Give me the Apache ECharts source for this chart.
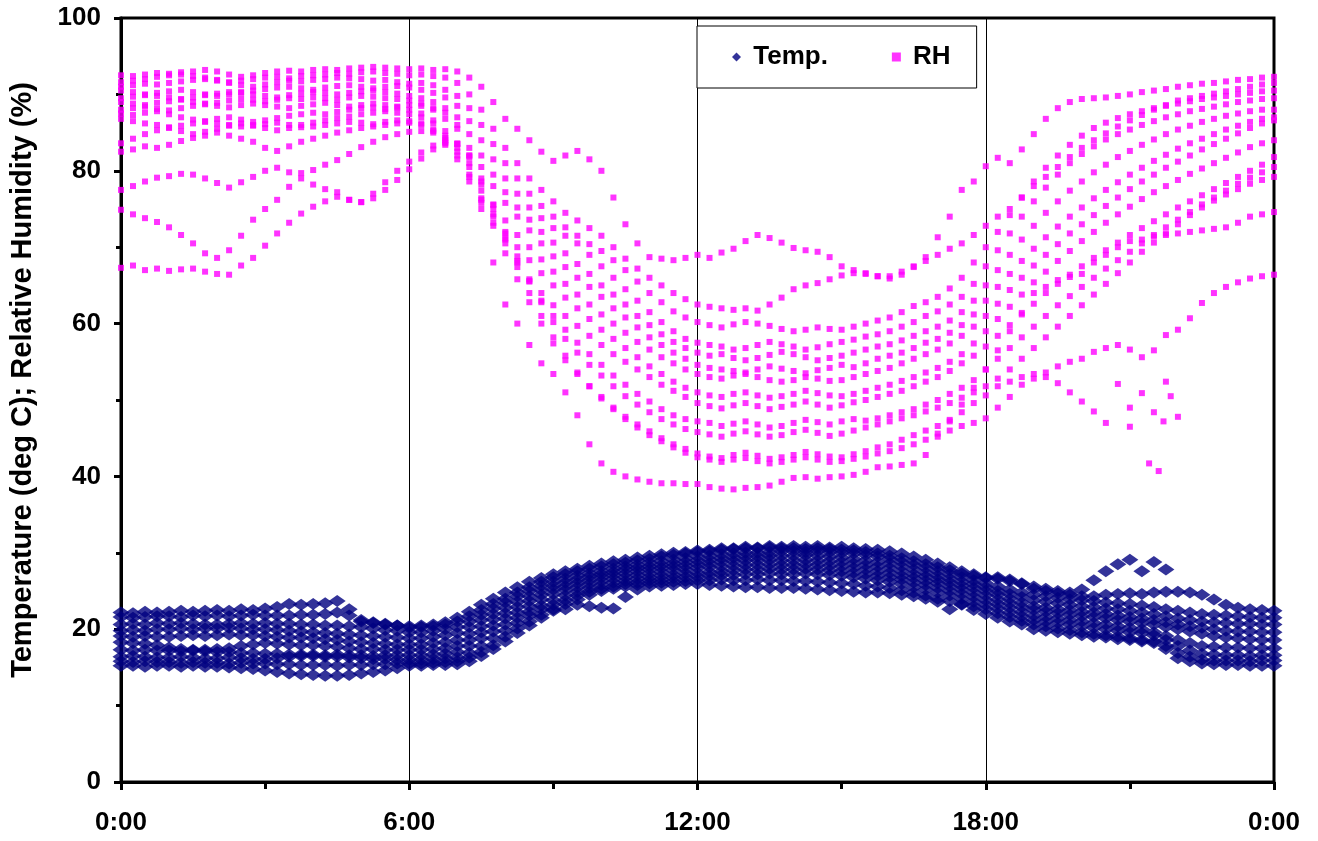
<!DOCTYPE html>
<html><head><meta charset="utf-8">
<script src="https://cdn.jsdelivr.net/npm/echarts@6/dist/echarts.min.js"></script>
<style>html,body{margin:0;padding:0;background:#fff}#c{width:1318px;height:841px}</style>
</head><body><div id="c"></div>
<script>
// Readings every 15 minutes from 0:00 to 24:00 (97 values per day curve)
const STEP_H = 0.25;
const X_TICK_LABELS = ['0:00', '6:00', '12:00', '18:00', '0:00'];
const Y_AXIS_NAME = 'Temperature (deg C); Relative Humidity (%)';

// ---------- Temperature (deg C), one array per day ----------
const temp1 = [22.2,22.1,22.3,22.2, 22.3,22.4,22.3,22.4, 22.5,22.4,22.6,22.5, 22.7,22.9,23.3,23.2, 23.3,23.4,23.7,22.6, 21.0,20.8,20.6,20.5, 20.4,20.5,20.6,20.9, 21.5,22.3,23.2,24.0, 24.8,25.5,26.2,26.7, 27.2,27.6,27.9,28.3, 28.6,28.9,29.1,29.4, 29.6,29.8,30.0,30.1, 30.3,30.4,30.6,30.6, 30.8,30.7,30.9,30.8, 30.9,30.8,30.9,30.7, 30.8,30.6,30.5,30.4, 30.2,29.9,29.5,29.1, 28.6,28.1,27.6,27.2, 26.8,26.6,26.3,25.9, 25.6,25.3,25.0,24.8, 25.2,26.4,27.6,28.5, 29.1,27.6,28.8,27.8, null,null,null,null, null,null,null,null, null];
const temp2 = [21.6,21.5,21.6,21.7, 21.7,21.6,21.8,21.7, 21.8,21.7,21.8,21.9, 21.8,21.8,21.8,21.9, 21.9,22.0,22.2,21.8, 21.2,20.9,20.7,20.5, 20.2,20.3,20.4,20.6, 21.0,21.7,22.5,23.3, 24.0,24.8,25.5,26.2, 26.8,27.2,27.6,27.9, 28.2,28.5,28.7,29.0, 29.2,29.5,29.7,29.9, 30.1,30.2,30.4,30.5, 30.6,30.6,30.7,30.6, 30.6,30.5,30.6,30.5, 30.4,30.3,30.1,29.9, 29.6,29.3,28.9,28.5, 28.1,27.7,27.3,27.0, 26.7,26.8,26.5,26.0, 25.3,25.0,24.7,24.5, 24.3,24.3,24.5,24.6, 24.7,24.6,24.8,24.9, 24.9,24.8,24.5,23.9, 23.2,22.8,22.6,22.5, 22.4];
const temp3 = [20.6,20.7,20.6,20.8, 20.7,20.8,20.7,20.6, 20.6,20.7,20.8,20.7, 20.8,20.7,20.7,20.6, 20.6,20.5,20.5,20.4, 20.3,20.1,19.9,19.8, 19.6,19.6,19.8,20.0, 20.3,21.0,21.9,22.7, 23.5,24.3,25.0,25.7, 26.2,26.6,27.0,27.3, 27.6,27.9,28.2,28.4, 28.7,28.9,29.1,29.3, 29.5,29.6,29.8,29.9, 30.0,30.0,30.1,30.2, 30.2,30.1,30.2,30.1, 30.0,29.9,29.7,29.5, 29.2,28.8,28.4,28.0, 27.6,27.2,26.8,26.4, 26.0,25.6,25.2,24.8, 24.5,24.3,24.1,23.9, 23.8,23.7,23.5,23.4, 23.3,23.1,22.9,22.6, 22.4,22.2,22.0,21.9, 21.8,21.7,21.6,21.5, 21.5];
const temp4 = [19.8,19.9,19.8,20.0, 20.0,20.1,20.0,20.1, 20.1,20.2,20.1,20.0, 20.0,19.9,19.8,19.7, 19.6,19.5,19.4,19.3, 19.2,19.1,19.0,18.9, 18.8,18.8,19.0,19.2, 19.5,20.3,21.2,22.0, 22.8,23.6,24.3,25.1, 25.7,26.1,26.5,26.9, 27.2,27.5,27.8,28.0, 28.2,28.4,28.6,28.8, 29.0,29.1,29.3,29.4, 29.5,29.5,29.6,29.6, 29.6,29.7,29.6,29.5, 29.4,29.2,29.0,28.8, 28.6,28.2,27.8,27.4, 27.0,26.6,26.2,25.9, 25.5,25.0,24.6,24.2, 23.8,23.6,23.4,23.2, 23.0,22.9,22.7,22.6, 22.4,22.2,22.0,21.7, 21.4,21.2,21.0,20.9, 20.8,20.7,20.7,20.6, 20.6];
const temp5 = [19.1,19.0,19.1,19.0, 19.0,19.1,19.2,19.1, 19.2,19.3,19.2,19.2, 19.1,19.0,18.9,18.9, 18.8,18.7,18.6,18.4, 18.3,18.2,18.1,18.0, 18.0,18.0,18.2,18.3, 18.6,19.4,20.4,21.3, 22.1,22.9,23.7,24.5, 25.2,25.6,26.0,26.4, 26.8,27.1,27.3,27.6, 27.8,28.0,28.2,28.3, 28.5,28.6,28.8,28.9, 29.0,29.0,29.1,29.0, 29.0,29.1,29.0,28.9, 28.8,28.6,28.4,28.2, 28.0,27.6,27.2,26.9, 26.5,26.1,25.7,25.4, 25.0,24.5,24.0,23.5, 23.0,22.8,22.6,22.5, 22.3,22.2,22.0,21.8, 21.6,21.4,21.2,20.9, 20.6,20.4,20.2,20.0, 19.8,19.7,19.7,19.6, 19.6];
const temp6 = [18.3,18.2,18.1,17.9, 17.6,17.4,17.3,17.3, 17.4,17.5,17.8,18.0, 18.2,18.1,18.0,17.9, 17.9,17.8,17.7,17.5, 17.4,17.4,17.3,17.3, 17.3,17.3,17.4,17.5, 17.8,18.6,19.6,20.5, 21.4,22.2,23.0,23.9, 24.6,25.1,25.5,25.9, 26.3,26.6,26.8,27.1, 27.3,27.5,27.7,27.8, 28.0,28.1,28.2,28.3, 28.4,28.4,28.5,28.4, 28.4,28.5,28.4,28.3, 28.2,28.0,27.8,27.6, 27.4,27.0,26.7,26.3, 26.0,25.6,25.2,24.8, 24.4,23.9,23.4,22.9, 22.5,22.3,22.1,21.9, 21.7,21.6,21.4,21.2, 21.0,20.8,20.6,20.3, 20.0,19.7,19.4,19.1, 18.9,18.8,18.7,18.6, 18.6];
const temp7 = [17.3,17.2,17.3,17.2, 17.2,17.1,17.2,17.1, 17.0,17.0,16.9,16.9, 16.8,16.8,16.7,16.7, 16.7,16.6,16.7,16.6, 16.6,16.5,16.6,16.6, 16.6,16.6,16.7,16.8, 17.0,17.8,18.8,19.7, 20.6,21.5,22.3,23.1, 23.8,24.4,24.9,25.4, 25.8,26.1,26.3,26.6, 26.8,27.0,27.1,27.3, 27.4,27.5,27.6,27.7, 27.8,27.8,27.9,27.8, 27.8,27.9,27.8,27.7, 27.6,27.4,27.2,27.0, 26.8,26.5,26.1,25.8, 25.4,25.0,24.6,24.2, 23.8,23.3,22.8,22.3, 21.8,21.6,21.4,21.2, 21.0,20.8,20.6,20.4, 20.2,20.0,19.6,19.1, 18.6,18.2,17.8,17.7, 17.6,17.6,17.5,17.5, 17.5];
const temp8 = [16.4,16.5,16.4,16.3, 16.3,16.4,16.3,16.2, 16.2,16.3,16.2,16.1, 16.1,16.2,16.4,16.5, 16.5,16.4,16.4,16.3, 16.2,16.1,16.1,16.0, 16.0,16.0,16.1,16.2, 16.3,16.9,17.8,18.8, 19.8,20.8,21.8,22.6, 23.2,23.8,24.4,24.9, 25.3,25.6,25.9,26.1, 26.4,26.5,26.7,26.8, 26.9,27.0,27.1,27.1, 27.2,27.2,27.3,27.2, 27.2,27.3,27.2,27.1, 27.0,26.8,26.6,26.4, 26.2,25.9,25.5,25.2, 24.8,24.4,24.0,23.6, 23.2,22.7,22.2,21.7, 21.2,21.0,20.8,20.6, 20.4,20.2,20.0,19.8, 19.6,19.5,19.2,18.6, 17.8,17.2,16.8,16.7, 16.6,16.6,16.5,16.6, 16.6];
const temp9 = [15.8,15.7,15.8,15.7, 15.7,15.6,15.7,15.6, 15.6,15.5,15.6,15.5, 15.5,15.4,15.4,15.3, 15.3,15.3,15.2,15.3, 15.3,15.4,15.4,15.5, 15.5,15.5,15.6,15.7, 15.8,16.3,17.0,17.9, 19.0,20.1,21.0,21.9, 22.6,23.3,23.9,24.5, 25.0,25.3,25.6,25.8, 26.0,26.1,26.2,26.3, 26.4,26.4,26.5,26.4, 26.4,26.5,26.4,26.4, 26.3,26.3,26.2,26.1, 26.0,25.9,25.7,25.6, 25.4,25.1,24.8,24.4, 24.0,23.7,23.3,23.0, 22.6,22.1,21.6,21.1, 20.6,20.4,20.1,19.9, 19.6,19.4,19.2,19.0, 18.8,18.6,18.4,17.8, 16.9,16.4,16.0,15.9, 15.9,15.9,15.8,15.9, 15.9];
const temp10 = [15.2,15.2,15.1,15.2, 15.2,15.1,15.2,15.1, 15.1,15.0,14.9,14.8, 14.6,14.4,14.2,14.1, 14.0,13.9,13.9,14.0, 14.2,14.4,14.6,14.9, 15.2,15.2,15.3,15.3, 15.4,15.8,16.5,17.4, 18.4,19.5,20.5,21.5, 22.4,22.6,23.2,23.0, 22.8,22.7,24.2,25.2, 25.6,25.7,25.8,25.9, 25.9,25.8,25.7,25.6, 25.5,25.5,25.4,25.4, 25.4,25.3,25.2,25.1, 25.0,24.9,24.8,24.8, 24.7,24.5,24.3,24.0, 23.6,22.6,23.2,22.5, 22.0,21.5,21.0,20.6, 20.0,19.8,19.6,19.4, 19.2,19.0,18.9,18.7, 18.6,18.4,18.2,17.4, 16.2,15.8,15.5,15.4, 15.3,15.3,15.2,15.2, 15.2];

// ---------- Relative humidity (%), one array per day ----------
const rh1 = [92.5,92.4,92.6,92.8, 92.7,92.9,93.0,93.2, 93.0,92.6,92.3,92.5, 92.8,93.0,93.1,93.0, 93.2,93.3,93.2,93.4, 93.5,93.6,93.5,93.4, 93.3,93.4,93.2,93.3, 93.0,92.2,91.0,89.0, 86.8,85.5,84.0,82.5, 81.3,82.0,82.6,81.5, 80.0,76.5,73.0,70.5, 68.7,68.5,68.3,68.6, 69.0,68.6,69.3,69.8, 70.8,71.6,71.2,70.6, 69.9,69.6,69.4,68.7, 67.5,67.0,66.6,66.2, 65.9,66.4,67.4,68.7, 71.3,74.0,77.5,78.6, 80.6,81.7,81.0,82.8, 84.8,86.8,88.2,89.0, 89.4,89.5,89.6,89.8, 90.0,90.3,90.5,90.7, 91.0,91.2,91.4,91.5, 91.7,91.9,92.0,92.2, 92.3];
const rh2 = [91.6,91.8,92.0,92.3, 92.5,92.6,92.4,92.2, 91.9,91.6,91.8,92.0, 92.2,92.3,92.1,92.4, 92.5,92.6,92.8,92.7, 92.9,93.0,92.8,92.7, 92.5,92.6,92.4,92.2, 91.5,90.0,88.0,85.5, 83.0,81.0,79.0,77.5, 76.0,74.5,73.5,72.5, 71.5,70.0,68.5,67.2, 66.0,65.0,64.0,63.2, 62.5,62.2,62.0,61.8, 62.0,61.7,62.5,63.4, 64.5,65.0,65.3,65.8, 66.3,66.6,66.5,66.2, 66.2,66.8,67.5,68.2, 69.0,69.8,70.5,71.6, 72.8,74.0,75.0,76.5, 78.0,79.2,80.5,81.8, 83.0,84.0,84.9,85.8, 86.6,87.3,88.0,88.6, 89.2,89.5,89.8,90.1, 90.4,90.7,91.0,91.3, 91.5];
const rh3 = [91.0,91.2,91.4,91.3, 91.5,91.7,91.9,92.0, 91.8,91.5,91.2,91.0, 91.3,91.6,91.8,91.7, 91.9,92.0,92.2,92.1, 92.0,91.8,91.9,91.6, 91.4,91.5,91.2,90.6, 89.8,88.2,86.0,83.5, 81.0,79.0,77.0,75.4, 74.0,72.6,71.5,70.4, 69.5,68.3,67.0,65.5, 64.0,62.8,61.6,60.8, 60.2,59.8,59.5,59.9, 60.2,60.0,59.7,59.3, 59.0,59.2,59.5,59.3, 59.2,59.6,60.0,60.4, 60.8,61.5,62.3,62.8, 63.5,64.6,66.0,68.0, 70.0,72.0,74.2,76.5, 78.6,80.4,82.0,83.4, 84.6,85.6,86.3,86.9, 87.4,87.8,88.2,88.5, 88.8,89.1,89.4,89.6, 89.8,90.0,90.2,90.4, 90.5];
const rh4 = [90.5,90.3,90.0,90.2, 90.4,90.6,90.3,90.0, 89.8,90.0,90.3,90.5, 90.7,90.9,91.0,90.8, 90.6,90.9,91.1,91.2, 91.0,90.8,91.0,91.1, 90.9,90.6,90.2,89.6, 88.5,86.5,84.0,81.5, 79.0,77.0,75.2,73.8, 72.5,71.5,70.5,69.0, 67.5,66.0,64.5,63.0, 61.5,60.2,59.0,58.0, 57.5,57.2,57.0,56.6, 56.8,57.2,57.6,57.3, 57.0,56.6,56.9,57.3, 57.6,57.9,58.3,58.6, 59.0,59.6,60.2,61.0, 61.6,62.5,63.5,65.2, 67.5,69.6,71.8,74.0, 76.0,77.8,79.5,81.0, 82.2,83.2,84.1,84.8, 85.4,86.0,86.5,87.0, 87.4,87.8,88.1,88.4, 88.7,89.0,89.2,89.4, 89.5];
const rh5 = [89.5,89.7,89.9,89.8, 89.6,89.4,89.6,89.9, 90.1,90.3,90.2,90.0, 89.8,89.6,89.9,90.1, 90.3,90.2,90.0,90.2, 90.4,90.5,90.3,90.1, 89.8,89.5,89.0,88.2, 87.0,84.8,82.0,79.5, 77.2,75.2,73.6,72.0, 70.6,69.2,67.8,66.5, 65.0,63.8,62.5,61.0, 59.8,58.6,57.6,56.8, 56.2,55.8,56.0,55.5, 55.2,55.5,55.9,56.3, 56.0,55.6,55.2,55.5, 55.8,56.2,56.6,57.0, 57.3,57.8,58.4,59.0, 59.6,60.4,61.5,63.0, 65.0,67.0,69.0,71.0, 72.8,74.5,76.0,77.4, 78.6,79.8,80.8,81.8, 82.6,83.4,84.1,84.8, 85.4,85.9,86.4,86.8, 87.2,87.5,87.8,88.0, 88.0];
const rh6 = [89.0,88.8,88.6,88.9, 89.1,89.3,89.0,88.8, 88.9,89.2,89.4,89.3, 89.1,89.3,89.5,89.4, 89.6,89.5,89.3,89.6, 89.8,89.7,89.5,89.4, 89.2,88.8,88.0,86.8, 85.5,83.0,80.5,78.0, 75.8,74.0,72.2,70.5, 68.8,67.4,66.0,64.8, 63.5,62.0,60.8,59.5, 58.2,57.2,56.2,55.4, 54.6,54.2,54.0,53.8, 53.6,54.0,54.4,54.1, 53.8,53.5,53.9,54.2, 54.6,54.3,54.8,55.4, 55.8,56.2,56.8,57.5, 58.0,58.8,59.8,61.2, 63.0,64.8,66.5,68.2, 69.8,71.3,72.7,74.0, 75.2,76.4,77.5,78.5, 79.5,80.4,81.3,82.1, 82.9,83.6,84.2,84.8, 85.4,85.9,86.4,86.8, 87.0];
const rh7 = [88.0,88.2,88.4,88.1, 87.9,88.2,88.5,88.7, 88.5,88.3,88.6,88.8, 88.6,88.4,88.2,88.5, 88.7,88.9,88.6,88.4, 88.6,88.8,88.6,88.3, 88.0,87.5,86.6,85.2, 83.5,81.0,78.2,75.6, 73.5,71.6,70.0,68.4, 66.8,65.2,63.8,62.5, 61.2,60.0,58.8,57.6, 56.6,55.6,54.8,54.0, 53.4,53.0,52.8,53.2, 53.4,53.0,52.6,52.4, 52.6,53.0,52.8,52.5, 52.6,53.0,53.4,53.8, 54.2,54.8,55.4,56.0, 56.6,57.4,58.4,59.6, 61.0,62.6,64.4,66.0, 67.6,69.0,70.4,71.8, 73.0,74.2,75.4,76.5, 77.6,78.6,79.5,80.4, 81.2,82.0,82.8,83.5, 84.2,84.9,85.6,86.2, 86.6];
const rh8 = [87.5,87.3,87.6,87.8, 87.4,87.0,86.7,86.4, 86.2,86.0,85.8,85.9, 86.1,86.3,86.0,85.7, 85.8,86.0,86.2,86.4, 86.3,86.1,86.4,86.6, 86.5,86.2,85.4,84.0, 82.0,79.2,76.4,74.0, 71.8,70.0,68.3,66.6, 65.0,63.4,62.0,60.6, 59.2,58.0,56.8,55.6, 54.4,53.4,52.4,51.6, 51.0,50.6,50.4,50.8, 51.0,50.6,50.3,50.5, 50.8,51.2,50.9,50.6, 50.5,50.8,51.2,51.6, 52.0,52.5,53.0,53.6, 54.2,55.0,56.0,57.4, 59.0,60.6,62.2,63.8, 65.4,66.8,68.2,69.5, 70.8,72.0,73.2,74.3, 75.3,76.3,77.2,78.0, 78.8,79.6,80.3,81.0, 81.7,82.4,83.1,83.6, 84.0];
const rh9 = [82.5,82.8,83.2,83.0, 83.4,83.9,84.3,84.6, 85.0,84.6,84.2,83.8, 83.0,82.6,83.2,83.8, 84.2,84.6,85.0,85.3, 85.6,85.8,86.0,86.2, 86.3,86.0,85.2,83.6, 81.5,78.6,75.8,73.2, 70.5,68.0,65.8,64.0, 62.4,61.0,59.7,58.4, 57.2,56.0,55.0,54.0, 53.0,52.0,51.2,50.4, 49.6,49.2,48.9,49.3, 49.6,49.2,48.8,49.1, 49.4,49.8,49.4,49.0, 49.3,49.7,50.0,50.4, 50.8,51.2,51.8,52.4, 53.0,53.8,54.8,55.8, 57.0,58.4,59.8,61.2, 62.6,64.0,65.2,66.4, 67.5,68.6,69.6,70.6, 71.6,72.5,73.4,74.3, 75.2,76.0,76.8,77.6, 78.4,79.2,80.0,80.8, 81.8];
const rh10 = [74.9,74.3,73.8,73.3, 72.6,71.6,70.5,69.2, 68.6,69.6,71.5,73.6, 75.0,76.2,77.9,79.7, 80.1,80.8,81.4,82.2, 83.1,83.8,84.4,84.8, 85.1,85.2,85.0,84.3, 83.0,80.5,77.4,74.3, 71.0,68.2,65.5,63.0, 61.0,59.2,57.5,56.0, 54.6,53.2,52.0,50.8, 49.8,48.8,48.0,47.5, 47.2,47.0,46.6,46.9, 47.2,46.8,46.4,46.6, 47.0,47.4,47.1,46.8, 47.2,47.5,47.3,47.6, 48.0,48.4,48.8,49.4, 50.0,50.8,51.6,52.6, 54.0,55.4,56.8,58.2, 59.6,61.0,62.4,63.6, 64.8,66.0,67.2,68.3, 69.4,70.5,71.6,72.6, 73.6,74.6,75.6,76.5, 77.4,78.3,79.1,79.8, 80.5];
const rh11 = [77.5,78.0,78.6,79.1, 79.3,79.6,79.5,79.0, 78.4,77.8,78.5,79.2, 80.0,80.4,79.8,79.0, 78.2,77.6,77.2,76.2, 75.9,76.4,77.5,78.8, 80.2,81.6,82.8,83.4, 83.5,82.0,79.0,75.5, 72.0,68.8,65.6,62.8, 60.2,58.0,56.2,54.6, 53.2,51.8,50.5,49.4, 48.4,47.5,46.8,46.2, 45.8,45.5,45.2,45.6, 45.9,45.5,45.2,45.4, 45.8,46.1,45.7,45.3, 45.6,46.0,46.4,46.8, 47.2,47.6,48.0,48.5, 49.0,49.6,50.3,51.0, 51.8,52.8,54.0,55.4, 56.8,58.2,59.6,61.0, 62.4,63.8,65.2,66.6, 68.0,69.4,70.6,71.8, 73.0,74.2,75.2,76.1, 76.9,77.6,78.3,78.8, 79.2];
const rh12 = [83.6,84.2,84.8,85.3, 85.6,85.2,84.8,85.1, 85.5,85.9,86.2,86.0, 85.6,85.3,85.6,86.0, 86.3,86.6,86.9,87.1, 87.4,87.6,87.8,87.6, 87.4,87.0,86.2,84.6, 82.5,79.5,76.2,72.8, 69.2,65.8,62.8,60.0, 57.4,55.2,53.4,51.8, 50.4,49.0,47.8,46.8, 45.9,45.0,44.2,43.6, 43.0,42.6,42.4,42.8, 43.1,42.7,42.3,42.5, 42.8,43.2,42.9,42.6, 42.5,42.9,43.3,43.8, 44.2,44.8,45.4,46.0, 46.6,47.4,48.4,49.6, 50.6,51.8,52.4,53.0, 53.4,53.0,52.2,51.0, 49.8,48.5,47.0,52.1, 46.5,50.9,48.4,52.4, 47.8,null,null,null, null,null,null,null, null];
const rh13 = [67.3,67.6,67.0,67.2, 66.9,67.1,67.2,66.8, 66.5,66.4,67.6,68.6, 70.2,71.8,73.2,74.4, 75.3,76.0,76.6,76.2, 75.9,77.0,78.5,80.0, 81.2,82.4,83.3,83.8, 83.6,81.8,78.6,75.0, 71.2,67.4,64.0,61.0, 58.2,55.8,53.6,51.8, 50.2,48.8,47.5,46.4, 45.4,44.6,43.8,43.1, 42.5,42.2,41.9,42.2, 42.4,42.0,41.7,41.9, 42.2,42.5,42.2,41.9, 42.0,42.3,42.6,43.0, 43.3,43.7,44.2,44.8, 45.6,47.2,49.4,51.6, 54.0,56.5,59.0,61.4, 64.0,64.8,65.7,66.1, 66.5,68.0,69.0,70.0, 70.8,71.0,71.4,71.6, 71.8,72.0,72.2,72.4, 72.6,73.2,74.0,74.3, 74.6];
const rh14 = [86.8,86.5,86.2,86.0, 85.7,85.9,86.2,86.5, 86.8,87.0,86.7,86.4, 86.6,86.9,87.2,87.4, 87.6,87.4,87.7,88.0, 88.2,88.3,88.1,88.4, 88.6,88.5,88.2,87.6, 86.0,82.0,75.0,68.0, 62.5,60.0,57.2,54.8, 53.4,51.0,48.0,44.2, 41.7,40.6,40.0,39.6, 39.3,39.1,39.1,39.0, 39.0,38.6,38.4,38.3, 38.5,38.6,38.8,39.3, 39.8,39.9,39.7,39.9, 40.0,40.2,40.6,41.2, 41.3,41.5,41.7,42.8, 45.2,46.0,46.6,47.0, 47.6,49.0,50.4,52.0, 52.8,53.6,54.4,55.0, 55.4,56.3,56.8,57.2, 56.6,55.6,56.5,58.5, 59.2,60.7,62.7,64.0, 64.8,65.4,65.9,66.2, 66.4];
// scattered RH readings of the incomplete day, [hour, %]
const rhLoose = [[21.0, 49.0], [21.4, 41.7], [21.6, 40.7], [21.7, 47.2], [21.85, 50.5]];

const TEMP_DAYS = [temp1, temp2, temp3, temp4, temp5, temp6, temp7, temp8, temp9, temp10];
const RH_DAYS = [rh1, rh2, rh3, rh4, rh5, rh6, rh7, rh8, rh9, rh10, rh11, rh12, rh13, rh14];

const NAVY = '#000080', MAGENTA = '#FF00FF';
function toPoints(arr) {
  const out = [];
  arr.forEach((v, i) => { if (v !== null) out.push([i * STEP_H, v]); });
  return out;
}
const series = [];
TEMP_DAYS.forEach(d => series.push({
  type: 'scatter', name: 'Temp.', symbol: 'diamond', symbolSize: [17, 12],
  itemStyle: { color: NAVY }, data: toPoints(d), silent: true
}));
RH_DAYS.forEach(d => series.push({
  type: 'scatter', name: 'RH', symbol: 'rect', symbolSize: 6,
  itemStyle: { color: MAGENTA }, data: toPoints(d), silent: true
}));
series.push({
  type: 'scatter', name: 'RH', symbol: 'rect', symbolSize: 6,
  itemStyle: { color: MAGENTA }, data: rhLoose, silent: true
});

const FONT = 'Arial, "Liberation Sans", sans-serif';
const chart = echarts.init(document.getElementById('c'), null, { renderer: 'canvas' });
chart.setOption({
  animation: false,
  backgroundColor: '#ffffff',
  grid: { left: 118, right: 44, top: 18, bottom: 59, show: true, borderColor: '#000', borderWidth: 3, backgroundColor: 'transparent' },
  legend: {
    data: [{ name: 'Temp.', icon: 'diamond' }, { name: 'RH', icon: 'rect' }],
    left: 697, top: 26, orient: 'horizontal',
    itemWidth: 9, itemHeight: 9, itemGap: 64,
    padding: [18, 26, 18, 35],
    backgroundColor: '#fff', borderColor: '#000', borderWidth: 1,
    selectedMode: false,
    formatter: n => ' ' + n,
    textStyle: { fontFamily: FONT, fontWeight: 'bold', fontSize: 26, color: '#000' }
  },
  xAxis: {
    type: 'value', min: 0, max: 24, interval: 6,
    axisLine: { show: true, onZero: false, lineStyle: { color: '#000', width: 3 } },
    axisTick: { show: true, length: 8, lineStyle: { color: '#000', width: 3 } },
    minorTick: { show: true, splitNumber: 2, length: 7, lineStyle: { color: '#000', width: 3 } },
    splitLine: { show: true, lineStyle: { color: '#000', width: 1 } },
    axisLabel: { formatter: v => X_TICK_LABELS[Math.round(v / 6)], fontFamily: FONT, fontWeight: 'bold', fontSize: 26, color: '#000', margin: 28 }
  },
  yAxis: {
    type: 'value', min: 0, max: 100, interval: 20,
    name: Y_AXIS_NAME, nameLocation: 'middle', nameGap: 84, nameRotate: 90,
    nameTextStyle: { fontFamily: FONT, fontWeight: 'bold', fontSize: 29, color: '#000', padding: [0, 0, 0, 40] },
    axisLine: { show: true, lineStyle: { color: '#000', width: 3 } },
    axisTick: { show: true, length: 7, lineStyle: { color: '#000', width: 3 } },
    minorTick: { show: true, splitNumber: 2, length: 5, lineStyle: { color: '#000', width: 3 } },
    splitLine: { show: false },
    axisLabel: { fontFamily: FONT, fontWeight: 'bold', fontSize: 26, color: '#000', margin: 20 }
  },
  series: series
});
</script>
</body></html>
